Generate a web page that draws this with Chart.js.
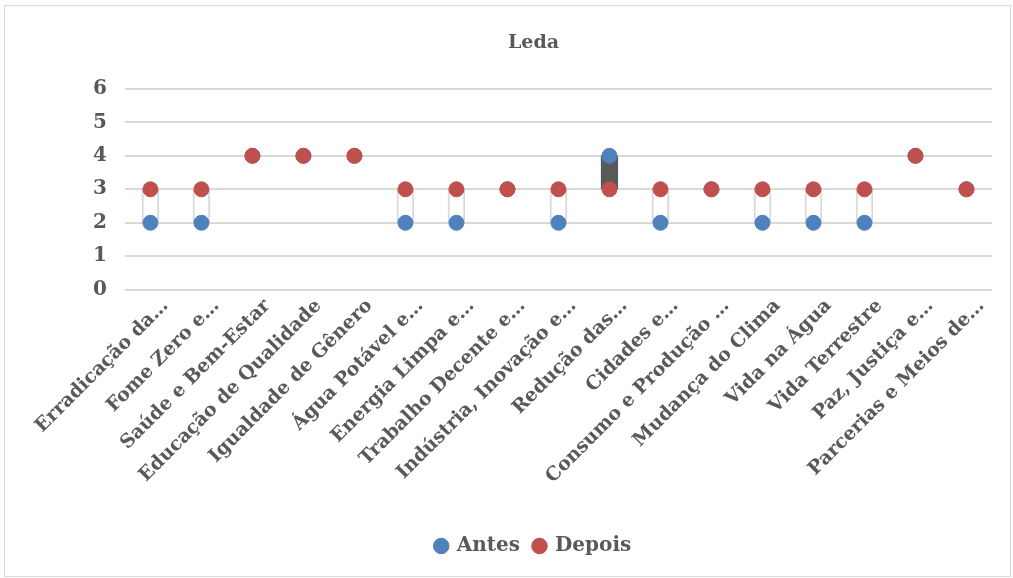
<!DOCTYPE html>
<html>
<head>
<meta charset="utf-8">
<script src="https://cdn.jsdelivr.net/npm/chart.js@4"></script>
<style>
  body { margin: 0; background: #fff; }
  #wrap { position: absolute; left: 4px; top: 5px; width: 1005px; height: 570px; border: 1px solid #d9d9d9; }
</style>
</head>
<body>
<div id="wrap"><canvas id="ledaChart"></canvas></div>
<script>
const labels = ['Erradicação da…', 'Fome Zero e…', 'Saúde e Bem-Estar', 'Educação de Qualidade', 'Igualdade de Gênero',
  'Água Potável e…', 'Energia Limpa e…', 'Trabalho Decente e…', 'Indústria, Inovação e…', 'Redução das…',
  'Cidades e…', 'Consumo e Produção …', 'Mudança do Clima', 'Vida na Água', 'Vida Terrestre',
  'Paz, Justiça e…', 'Parcerias e Meios de…'];
const antes  = [2, 2, 4, 4, 4, 2, 2, 3, 2, 4, 2, 3, 2, 2, 2, 4, 3];
const depois = [3, 3, 4, 4, 4, 3, 3, 3, 3, 3, 3, 3, 3, 3, 3, 4, 3];
const yTicks = [0, 1, 2, 3, 4, 5, 6];

const grey = '#595959';
const font = 'DejaVu Serif';

// up/down bars between the two series
const upDown = antes.map((a, i) => [a, depois[i]]);
const barFill = antes.map((a, i) => depois[i] > a ? '#ffffff' : grey);
const barLine = antes.map((a, i) => depois[i] > a ? '#d9d9d9' : grey);

const ctx = document.getElementById('ledaChart');

new Chart(ctx, {
  type: 'line',
  data: {
    labels: labels,
    datasets: [{
      label: 'Antes',
      data: antes,
      showLine: false,
      pointStyle: 'circle',
      pointRadius: 7.5,
      pointBackgroundColor: '#4F81BD',
      pointBorderColor: '#4F81BD',
      backgroundColor: '#4F81BD',
      borderColor: '#4F81BD',
      order: 1
    }, {
      label: 'Depois',
      data: depois,
      showLine: false,
      pointStyle: 'circle',
      pointRadius: 7.5,
      pointBackgroundColor: '#C0504D',
      pointBorderColor: '#C0504D',
      backgroundColor: '#C0504D',
      borderColor: '#C0504D',
      order: 0
    }, {
      type: 'bar',
      label: 'updown',
      data: upDown,
      backgroundColor: barFill,
      borderColor: barLine,
      borderWidth: 2,
      borderSkipped: false,
      barThickness: 17,
      order: 2
    }]
  },
  options: {
    responsive: true,
    maintainAspectRatio: false,
    animation: false,
    layout: { padding: { left: 70, right: 18, top: 10, bottom: 10 } },
    plugins: {
      title: {
        display: true,
        text: 'Leda',
        color: grey,
        font: { family: font, size: 19, weight: 'bold' },
        padding: { top: 16, bottom: 34 }
      },
      legend: {
        position: 'bottom',
        labels: {
          color: grey,
          font: { family: font, size: 20, weight: 'bold' },
          usePointStyle: true,
          pointStyle: 'circle',
          boxWidth: 11,
          boxHeight: 11,
          padding: 14,
          filter: (item) => item.text !== 'updown',
          sort: (a, b) => a.datasetIndex - b.datasetIndex
        }
      },
      tooltip: { enabled: false }
    },
    scales: {
      x: {
        offset: true,
        grid: { display: false },
        border: { display: false },
        afterFit: (scale) => { scale.height += 37; },
        ticks: {
          color: grey,
          font: { family: font, size: 19, weight: 'bold' },
          minRotation: 45,
          maxRotation: 45,
          autoSkip: false,
          padding: -3,
          labelOffset: 15
        }
      },
      y: {
        min: 0,
        max: 6,
        afterBuildTicks: (scale) => { scale.ticks = yTicks.map(v => ({ value: v })); },
        grid: { color: '#d9d9d9', lineWidth: 2, drawTicks: false },
        border: { display: false },
        ticks: {
          color: grey,
          padding: 18,
          font: { family: font, size: 20, weight: 'bold' }
        }
      }
    }
  }
});
</script>
</body>
</html>
